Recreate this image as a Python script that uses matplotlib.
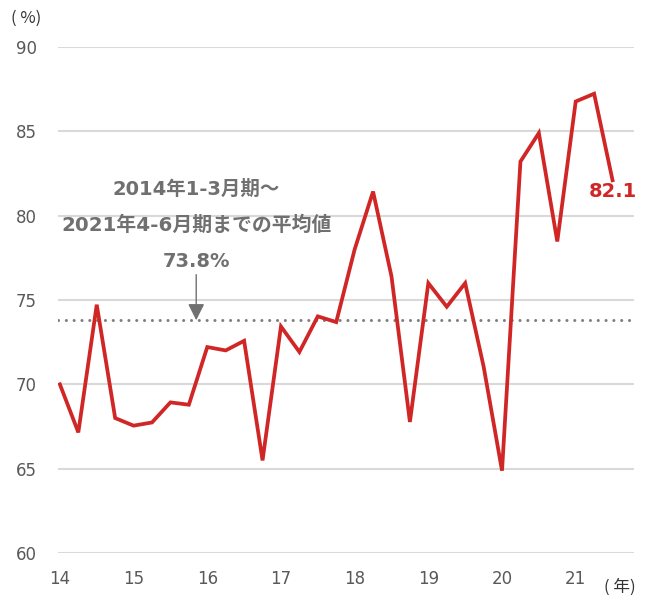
import matplotlib
matplotlib.use("Agg")
import matplotlib.pyplot as plt
import numpy as np

plt.rcParams["font.family"] = ["DejaVu Sans", "Noto Sans CJK JP"]

# quarterly values, 2014 Q1 .. 2021 Q3 (%)
values = [70.0, 67.15, 74.72, 68.0,
          67.55, 67.74, 68.93, 68.79,
          72.21, 72.01, 72.58, 65.49,
          73.43, 71.92, 74.03, 73.69,
          78.0, 81.43, 76.4, 67.77,
          76.0, 74.6, 76.0, 71.06,
          64.88, 83.21, 84.9, 78.47,
          86.77, 87.23, 82.1]
start_year = 14
avg_value = 73.8
year_ticks = [14, 15, 16, 17, 18, 19, 20, 21]
y_ticks = [60, 65, 70, 75, 80, 85, 90]

RED = "#d12626"
GRAY_TXT = "#595959"
ANN = "#707070"
GRID = "#d9d9d9"
CJK = ["Noto Sans CJK JP", "DejaVu Sans"]

x = start_year + np.arange(len(values)) * 0.25

fig = plt.figure(figsize=(6.46, 5.95), dpi=100)
ax = fig.add_axes([0.0893, 0.0706, 0.892, 0.8504])

ax.set_ylim(60, 90)
ax.set_xlim(13.97, 21.79)
ax.set_yticks(y_ticks)
ax.set_xticks(year_ticks)
ax.set_xticklabels([str(t) for t in year_ticks])
for yv in y_ticks:
    ax.axhline(yv, color=GRID, lw=1.5, zorder=1)
for s in ax.spines.values():
    s.set_visible(False)
ax.tick_params(axis="both", length=0, labelsize=12, labelcolor=GRAY_TXT)
ax.tick_params(axis="y", pad=15)
ax.tick_params(axis="x", pad=12)

# average line
ax.axhline(avg_value, color="#7f7f7f", lw=2.2, dash_capstyle="round",
           linestyle=(0, (0.01, 2.55)), zorder=2)

ax.plot(x, values, color=RED, lw=2.7, solid_joinstyle="miter", zorder=3)

# last value label
ax.text(x[-1], 81.45, f"{values[-1]:.1f}", color=RED,
        fontsize=14, fontweight="bold", ha="center", va="center", zorder=4)

# average annotation
ann_x = 15.85
ax.text(ann_x, 81.55, "2014年1-3月期～", color=ANN, fontsize=14,
        fontweight="bold", ha="center", va="center")
ax.text(ann_x, 79.45, "2021年4-6月期までの平均値", color=ANN, fontsize=14.3,
        fontweight="bold", ha="center", va="center")
ax.text(ann_x, 77.3, "73.8%", color=ANN, fontsize=14,
        fontweight="bold", ha="center", va="center")
ax.annotate("", xy=(ann_x, avg_value), xytext=(ann_x, 76.5),
            arrowprops=dict(arrowstyle="-|>,head_length=1.0,head_width=0.5",
                            color=ANN, lw=1.0, shrinkA=0, shrinkB=0))

fig.text(11 / 646, 1 - 18 / 595, "( %)", color="#333333", fontsize=12,
         family=CJK, ha="left", va="center")
fig.text(636 / 646, 1 - 587 / 595, "( 年)", color="#333333", fontsize=12,
         family=CJK, ha="right", va="center")

fig.savefig("out.png", dpi=100)
